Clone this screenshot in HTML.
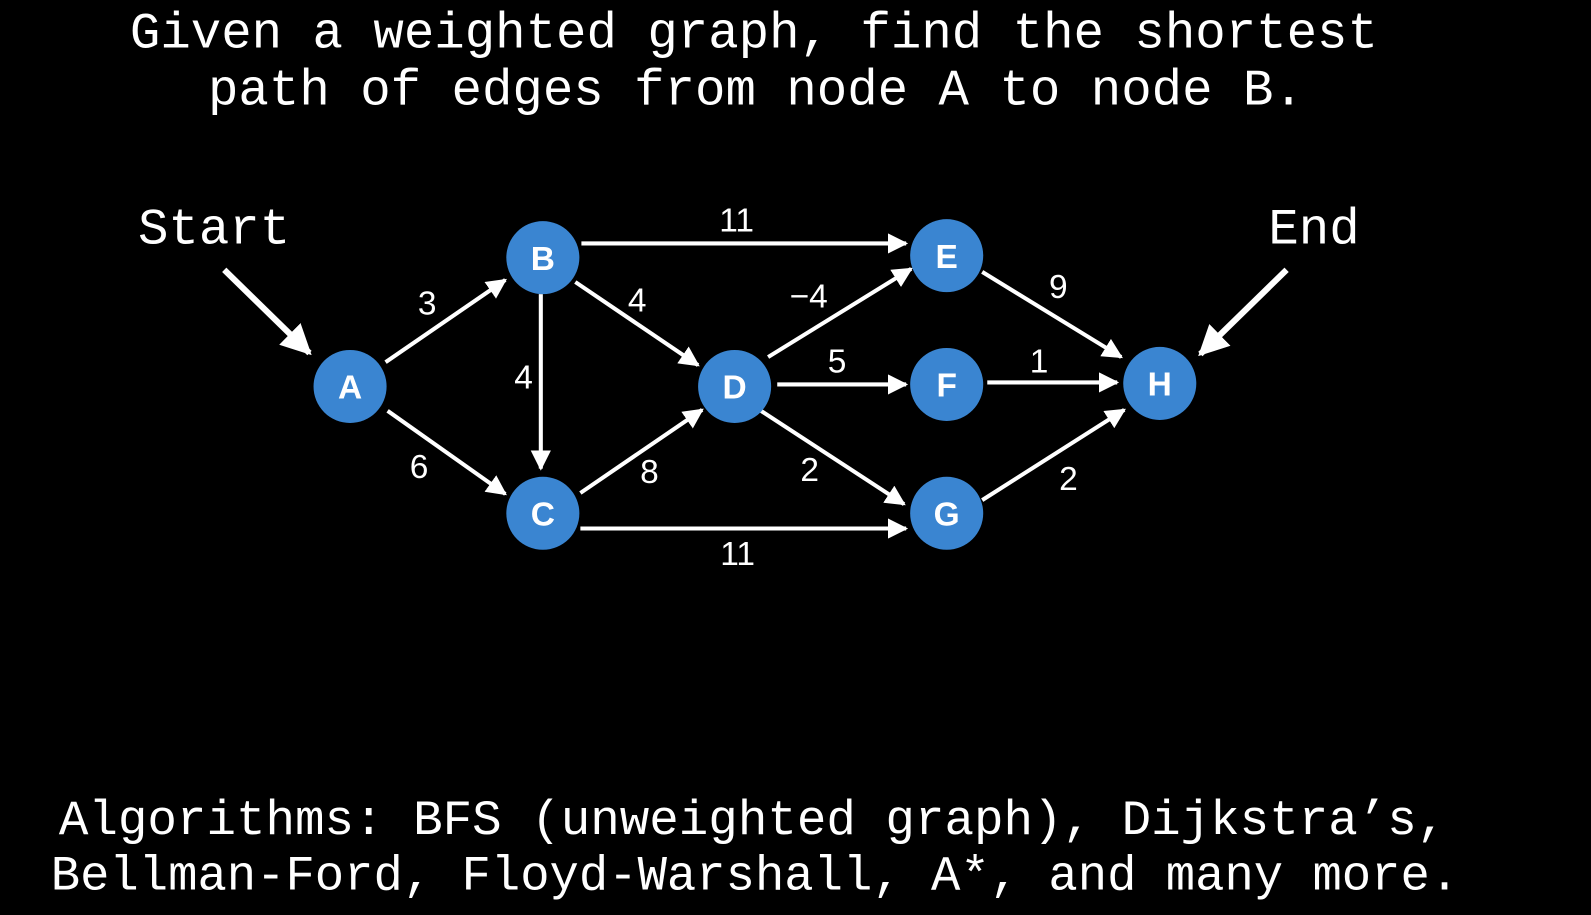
<!DOCTYPE html>
<html><head><meta charset="utf-8"><style>
html,body{margin:0;padding:0;background:#000;overflow:hidden}
svg{display:block}
</style></head><body>
<svg width="1591" height="915" viewBox="0 0 1568 902" preserveAspectRatio="none" xmlns="http://www.w3.org/2000/svg">
<defs>
<marker id="ah" viewBox="0 0 10 10" refX="9" refY="5" markerWidth="5" markerHeight="5" orient="auto" markerUnits="strokeWidth">
<path d="M0,0 L10,5 L0,10 z" fill="#fff"/>
</marker>
</defs>
<rect width="1568" height="902" fill="#000"/>
<g font-family="'Liberation Mono', monospace" font-size="50" fill="#fff">
<text x="128" y="47">Given a weighted graph, find the shortest</text>
<text x="205" y="103">path of edges from node A to node B.</text>
<text x="58" y="822" font-size="48.5">Algorithms: BFS (unweighted graph), Dijkstra’s,</text>
<text x="50" y="877" font-size="48.2">Bellman-Ford, Floyd-Warshall, A*, and many more.</text>
</g>
<g stroke="#fff" stroke-width="4" marker-end="url(#ah)">
<line x1="380" y1="357" x2="498" y2="276"/>
<line x1="382" y1="405" x2="498" y2="487"/>
<line x1="533" y1="290" x2="533" y2="462"/>
<line x1="573" y1="240" x2="893" y2="240"/>
<line x1="567" y1="278" x2="688" y2="360"/>
<line x1="572" y1="486" x2="692" y2="404"/>
<line x1="572" y1="521" x2="893" y2="521"/>
<line x1="757" y1="352" x2="898" y2="265"/>
<line x1="766" y1="379" x2="893" y2="379"/>
<line x1="750" y1="405" x2="891" y2="497"/>
<line x1="973" y1="377" x2="1101" y2="377"/>
<line x1="968" y1="268" x2="1105" y2="352"/>
<line x1="968" y1="493" x2="1108" y2="404"/>
<line x1="221" y1="266" x2="305" y2="348" stroke-width="6"/>
<line x1="1268" y1="266" x2="1183" y2="349" stroke-width="6"/>
</g>
<g fill="#3a85d1">
<circle cx="345" cy="381" r="36"/><circle cx="535" cy="254" r="36"/>
<circle cx="535" cy="506" r="36"/><circle cx="724" cy="381" r="36"/>
<circle cx="933" cy="252" r="36"/><circle cx="933" cy="379" r="36"/>
<circle cx="933" cy="506" r="36"/><circle cx="1143" cy="378" r="36"/>
</g>
<g font-family="'Liberation Sans', sans-serif" font-weight="bold" font-size="33" fill="#fff" text-anchor="middle">
<text x="345" y="393">A</text><text x="535" y="266">B</text>
<text x="535" y="518">C</text><text x="724" y="393">D</text>
<text x="933" y="264">E</text><text x="933" y="391">F</text>
<text x="933" y="518">G</text><text x="1143" y="390">H</text>
</g>
<g font-family="'Liberation Sans', sans-serif" font-size="33" fill="#fff" text-anchor="middle">
<text x="421" y="310">3</text><text x="413" y="471">6</text>
<text x="516" y="383">4</text><text x="628" y="307">4</text>
<text x="726" y="228">11</text><text x="797" y="303">−4</text>
<text x="825" y="367">5</text><text x="640" y="476">8</text>
<text x="798" y="474">2</text><text x="727" y="557">11</text>
<text x="1024" y="367">1</text><text x="1043" y="294">9</text>
<text x="1053" y="483">2</text>
</g>
<g font-family="'Liberation Mono', monospace" font-size="50" fill="#fff">
<text x="136" y="240">Start</text>
<text x="1250" y="240">End</text>
</g>
</svg>
</body></html>
